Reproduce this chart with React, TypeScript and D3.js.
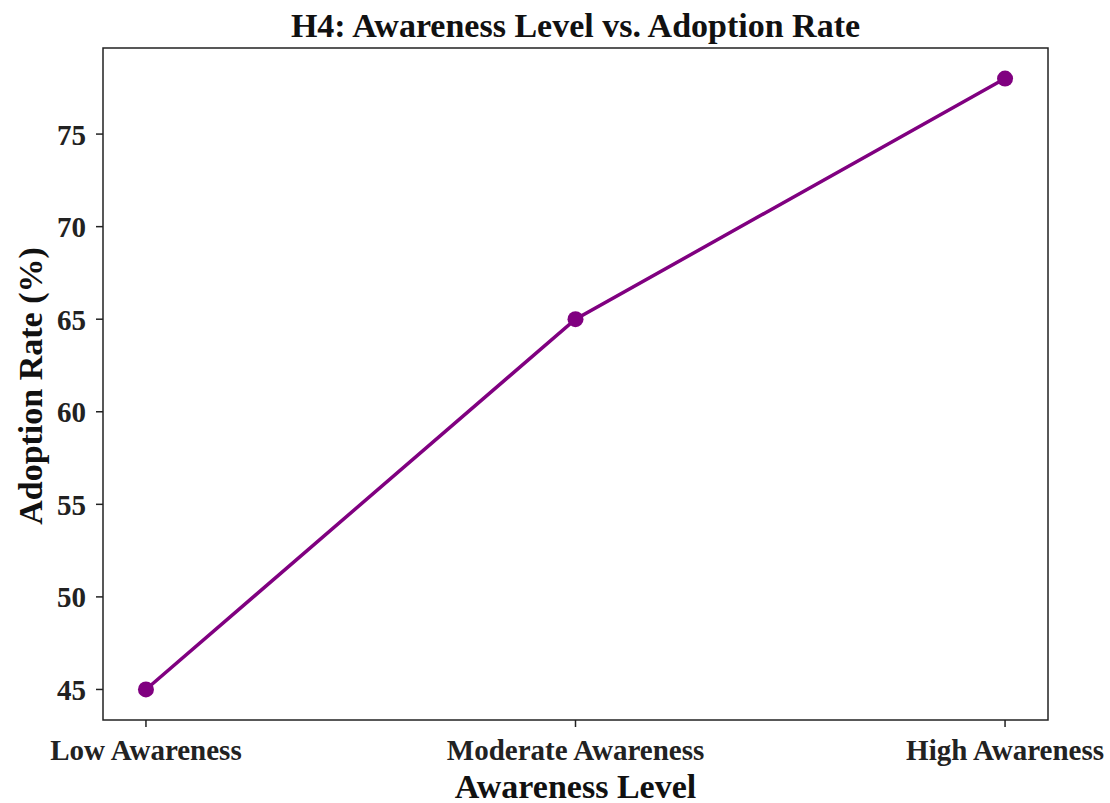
import React from "react";
import * as d3 from "d3";

const categories = ["Low Awareness", "Moderate Awareness", "High Awareness"];
const adoption = [45, 65, 78];
const yTicks = [45, 50, 55, 60, 65, 70, 75];

export default function App() {
  const W = 1110, H = 803;
  const left = 103, right = 1048, top = 48, bottom = 720;
  const x = d3.scaleLinear().domain([-0.1, 2.1]).range([left, right]);
  const span = 78 - 45;
  const y = d3.scaleLinear().domain([45 - span * 0.05, 78 + span * 0.05]).range([bottom, top]);
  const pts = categories.map((c, i) => [x(i), y(adoption[i])] as [number, number]);
  const line = d3.line()(pts) || "";
  const font = "'Liberation Serif', 'Times New Roman', serif";
  return (
    <svg width={W} height={H} style={{ position: "absolute", left: 0, top: 0, background: "#fff" }} fontFamily={font} fontWeight="bold">
      <rect x={left} y={top} width={right - left} height={bottom - top} fill="none" stroke="#222" strokeWidth={1.5} />
      {yTicks.map((t) => (
        <g key={t}>
          <line x1={left - 7} x2={left} y1={y(t)} y2={y(t)} stroke="#222" strokeWidth={1.5} />
          <text x={left - 17} y={y(t)} dy="0.36em" textAnchor="end" fontSize={29} fill="#222">{t}</text>
        </g>
      ))}
      {categories.map((c, i) => (
        <g key={c}>
          <line x1={x(i)} x2={x(i)} y1={bottom} y2={bottom + 7} stroke="#222" strokeWidth={1.5} />
          <text x={x(i)} y={bottom + 30} dy="0.35em" textAnchor="middle" fontSize={29} fill="#222">{c}</text>
        </g>
      ))}
      <path d={line} fill="none" stroke="#800080" strokeWidth={3.5} />
      {pts.map((p, i) => (
        <circle key={i} cx={p[0]} cy={p[1]} r={8} fill="#800080" />
      ))}
      <text x={(left + right) / 2} y={25} dy="0.35em" textAnchor="middle" fontSize={34} fill="#111">H4: Awareness Level vs. Adoption Rate</text>
      <text x={(left + right) / 2} y={786} dy="0.35em" textAnchor="middle" fontSize={34} fill="#111">Awareness Level</text>
      <text transform={`translate(30,${(top + bottom) / 2 + 2}) rotate(-90)`} dy="0.35em" textAnchor="middle" fontSize={34} fill="#111">Adoption Rate (%)</text>
    </svg>
  );
}
